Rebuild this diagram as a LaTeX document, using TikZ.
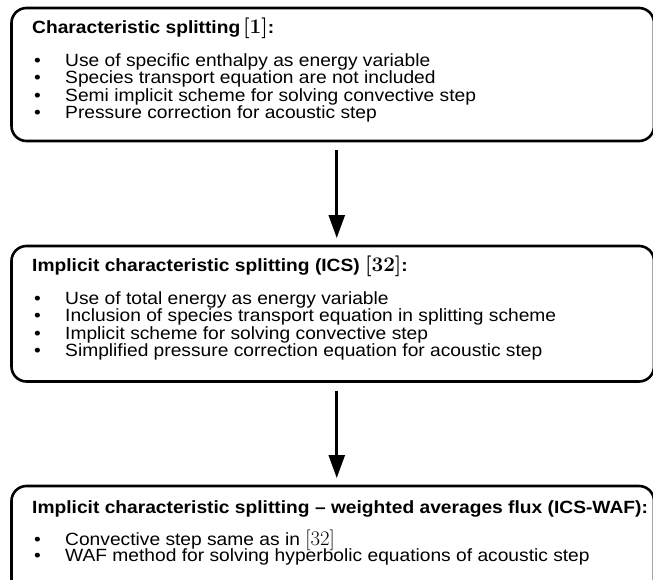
\documentclass[tikz,border=0pt]{standalone}
\usepackage[no-math]{fontspec}
\setmainfont{Liberation Sans}[FakeStretch=1.085]
\usetikzlibrary{arrows.meta, positioning}
\tikzstyle{block} = [rectangle, rounded corners=15pt, draw=black, line width=2.6pt, outer sep=0pt, minimum width=642.5pt, anchor=north west]
\tikzstyle{body} = [inner sep=0pt, anchor=base west, font=\fontsize{17.7}{17.4}\selectfont]
\tikzstyle{arrow} = [line width=2.6pt, -{Triangle[width=16pt,length=23pt]}, shorten <=9pt, shorten >=8pt]
\newcommand{\itm}[1]{\makebox[33pt][l]{\hspace{2pt}\textbullet}#1}
% citation marks are set in the math font, a bit larger
\newcommand{\cit}[1]{{\fontsize{19.5}{17.4}\selectfont$[#1]$}}
% top-aligned text column with a fixed line pitch
\newcommand{\lines}[1]{\parbox[t]{630pt}{\lineskiplimit=-20pt #1}}

\begin{document}
\begin{tikzpicture}[x=1pt, y=-1pt]
    \useasboundingbox (0,0) rectangle (653,579);
    \clip (0,0) rectangle (653,579);

    \node (box1) [block, minimum height=133pt] at (11.5,8) {};
    \node (box2) [block, minimum height=135.5pt] at (11.5,246) {};
    \node (box3) [block, minimum height=130pt] at (11.5,486) {};

    % texts hang from the baseline of their title row
    \node (txt1) [body, below right=25.3pt and 20.5pt of box1.north west, anchor=base west]
        {\lines{\textbf{Characteristic splitting}\,{\boldmath\cit{1}}\textbf{:}\\[15.6pt]
         \itm{Use of specific enthalpy as energy variable}\\
         \itm{Species transport equation are not included}\\
         \itm{Semi implicit scheme for solving convective step}\\
         \itm{Pressure correction for acoustic step}}};
    \node (txt2) [body, below right=25.7pt and 20.5pt of box2.north west, anchor=base west]
        {\lines{\textbf{Implicit characteristic splitting (ICS)} {\boldmath\cit{32}}\textbf{:}\\[15.2pt]
         \itm{Use of total energy as energy variable}\\
         \itm{Inclusion of species transport equation in splitting scheme}\\
         \itm{Implicit scheme for solving convective step}\\
         \itm{Simplified pressure correction equation for acoustic step}}};
    \node (txt3) [body, below right=27.3pt and 20.5pt of box3.north west, anchor=base west]
        {\lines{\textbf{Implicit characteristic splitting -- weighted averages flux (ICS-WAF):}\\[14.3pt]
         \itm{Convective step same as in \cit{32}}\\[-0.7pt]
         \itm{WAF method for solving hyperbolic equations of acoustic step}}};

    \draw [arrow] ([xshift=4pt]box1.south) -- ([xshift=4pt]box2.north);
    \draw [arrow] ([xshift=4pt]box2.south) -- ([xshift=4pt]box3.north);
\end{tikzpicture}
\end{document}
